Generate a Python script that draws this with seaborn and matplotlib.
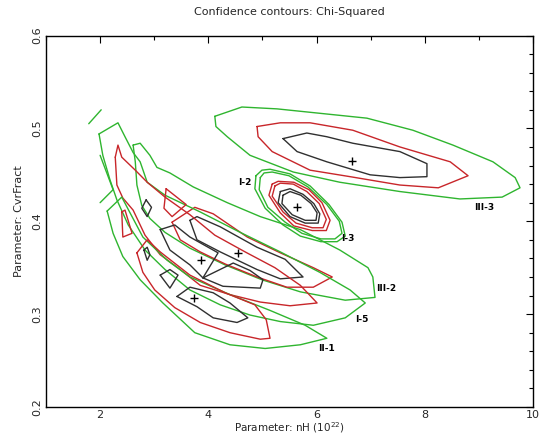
import matplotlib
matplotlib.use("Agg")
import matplotlib.pyplot as plt
import seaborn as sns
import numpy as np

sns.set_style("white")
plt.rcParams['font.family'] = ['DejaVu Sans']

GREEN = "#2fb52f"
RED = "#c8262a"
BLACK = "#303030"

# ---- III-3 ----
g_iii3_x = [4.12,4.62,5.27,6.93,7.78,8.52,9.26,9.67,9.76,9.43,8.65,7.54,6.43,5.57,4.77,4.35,4.14,4.12]
g_iii3_y = [0.513,0.523,0.521,0.511,0.498,0.482,0.464,0.447,0.436,0.426,0.424,0.432,0.442,0.453,0.471,0.491,0.502,0.513]
r_iii3_x = [4.90,5.33,5.88,6.67,7.54,8.47,8.80,8.25,7.54,6.62,5.88,5.18,4.92,4.90]
r_iii3_y = [0.502,0.506,0.506,0.498,0.480,0.464,0.449,0.436,0.439,0.448,0.455,0.475,0.491,0.502]
k_iii3_x = [5.38,5.64,6.19,6.99,7.54,8.04,8.04,7.54,6.67,6.19,5.82,5.38]
k_iii3_y = [0.489,0.475,0.464,0.450,0.447,0.448,0.462,0.475,0.484,0.491,0.495,0.489]

# ---- I-2 / I-3 ellipses ----
k_i2_x = [5.33,5.29,5.51,5.79,6.03,6.06,5.95,5.75,5.51,5.33]
k_i2_y = [0.432,0.420,0.405,0.398,0.398,0.408,0.419,0.429,0.435,0.432]
k_i3_x = [5.38,5.36,5.55,5.79,5.99,6.01,5.90,5.71,5.51,5.38]
k_i3_y = [0.428,0.419,0.407,0.401,0.401,0.409,0.419,0.428,0.432,0.428]
r_i2_x = [5.18,5.12,5.33,5.58,5.92,6.18,6.25,6.10,5.86,5.58,5.29,5.18]
r_i2_y = [0.440,0.428,0.409,0.395,0.390,0.390,0.401,0.420,0.434,0.442,0.443,0.440]
r_i3_x = [5.23,5.18,5.38,5.62,5.92,6.12,6.18,6.05,5.82,5.57,5.33,5.23]
r_i3_y = [0.438,0.427,0.410,0.398,0.393,0.393,0.402,0.419,0.432,0.440,0.441,0.438]
g_i2_x = [4.88,4.86,5.05,5.38,5.70,6.08,6.38,6.53,6.47,6.23,5.88,5.51,5.14,4.99,4.88]
g_i2_y = [0.449,0.435,0.414,0.396,0.384,0.378,0.378,0.384,0.399,0.418,0.438,0.451,0.456,0.455,0.449]
g_i3_x = [4.96,4.94,5.10,5.42,5.73,6.08,6.34,6.47,6.42,6.19,5.84,5.49,5.18,5.03,4.96]
g_i3_y = [0.447,0.434,0.415,0.399,0.387,0.381,0.381,0.387,0.400,0.418,0.437,0.449,0.453,0.452,0.447]

# ---- III-2 ----
k_iii2_x = [3.66,3.79,4.22,4.90,5.42,5.75,5.33,4.90,4.22,3.79,3.66]
k_iii2_y = [0.401,0.405,0.394,0.372,0.359,0.340,0.338,0.348,0.367,0.380,0.401]
r_iii2_x = [3.33,3.75,4.09,4.72,5.33,5.94,6.29,5.94,5.45,4.90,4.31,3.85,3.48,3.33]
r_iii2_y = [0.399,0.415,0.408,0.383,0.366,0.350,0.340,0.329,0.329,0.340,0.354,0.367,0.380,0.399]
g_iii2_x = [2.61,2.74,2.92,3.05,3.29,3.72,4.35,4.96,5.70,6.43,6.95,7.04,7.08,6.53,5.70,4.99,4.31,3.66,3.20,2.92,2.77,2.68,2.65,2.61]
g_iii2_y = [0.482,0.484,0.471,0.458,0.452,0.437,0.420,0.405,0.391,0.369,0.350,0.340,0.318,0.315,0.324,0.337,0.353,0.371,0.388,0.403,0.417,0.439,0.464,0.482]

# ---- I-5 ----
k_i5a_x = [3.11,3.38,3.66,4.18,3.90,3.66,3.29,3.11]
k_i5a_y = [0.391,0.396,0.383,0.366,0.339,0.353,0.369,0.391]
k_i5b_x = [3.90,4.46,4.77,5.01,4.96,4.27,3.90]
k_i5b_y = [0.339,0.355,0.347,0.337,0.328,0.330,0.339]
r_i5_x = [2.28,2.33,2.40,2.65,2.87,3.20,3.66,4.12,4.68,5.23,5.70,6.01,5.51,4.96,4.40,3.85,3.48,3.11,2.83,2.61,2.42,2.31,2.28]
r_i5_y = [0.469,0.482,0.469,0.455,0.442,0.426,0.407,0.385,0.367,0.350,0.331,0.312,0.309,0.313,0.321,0.331,0.348,0.364,0.385,0.412,0.425,0.439,0.469]
g_i5_x = [1.98,2.33,2.46,2.61,2.74,2.87,3.20,3.85,4.59,5.33,6.06,6.62,6.90,6.53,5.94,5.33,4.77,4.22,3.66,3.20,2.83,2.52,2.31,2.18,2.05,1.98]
g_i5_y = [0.494,0.506,0.491,0.474,0.464,0.442,0.428,0.410,0.388,0.367,0.345,0.326,0.312,0.296,0.288,0.292,0.299,0.310,0.326,0.348,0.369,0.396,0.423,0.445,0.471,0.494]
g_open1_x = [2.00,2.24,2.00]
g_open1_y = [0.471,0.434,0.420]
g_open2_x = [1.79,2.02]
g_open2_y = [0.505,0.520]

# ---- II-1 ----
k_ii1_x = [3.42,3.66,4.09,4.40,4.73,4.53,4.09,3.79,3.42]
k_ii1_y = [0.319,0.329,0.323,0.312,0.296,0.291,0.296,0.308,0.319]
k_s1_x = [3.11,3.29,3.44,3.29,3.11]
k_s1_y = [0.342,0.348,0.342,0.328,0.342]
k_s2_x = [2.81,2.87,2.92,2.87,2.81]
k_s2_y = [0.369,0.372,0.364,0.358,0.369]
k_s3_x = [2.85,2.95,2.87,2.77,2.85]
k_s3_y = [0.423,0.415,0.405,0.414,0.423]
r_ii1_x = [2.68,2.87,3.11,3.66,4.31,4.86,5.07,5.14,4.96,4.40,3.85,3.38,3.01,2.79,2.68]
r_ii1_y = [0.366,0.380,0.367,0.342,0.323,0.310,0.294,0.274,0.273,0.280,0.291,0.307,0.326,0.345,0.366]
r_s1_x = [2.40,2.46,2.59,2.42,2.40]
r_s1_y = [0.410,0.412,0.387,0.383,0.410]
r_s2_x = [3.22,3.59,3.33,3.18,3.22]
r_s2_y = [0.435,0.418,0.405,0.414,0.435]
g_ii1_x = [2.13,2.40,2.59,2.79,3.24,3.66,4.40,5.14,5.79,6.19,5.70,5.05,4.40,3.75,3.16,2.74,2.42,2.24,2.13]
g_ii1_y = [0.411,0.426,0.405,0.383,0.358,0.340,0.321,0.304,0.288,0.274,0.267,0.263,0.267,0.280,0.312,0.337,0.362,0.387,0.411]

# best-fit points
best_x = [6.66, 5.64, 4.55, 3.87, 3.74]
best_y = [0.465, 0.415, 0.366, 0.358, 0.317]

# labels
label_text = ["I-2", "I-3", "III-3", "III-2", "I-5", "II-1"]
label_x = [4.68, 6.58, 9.10, 7.28, 6.84, 6.18]
label_y = [0.442, 0.381, 0.415, 0.328, 0.294, 0.263]

fig = plt.figure(figsize=(5.43, 4.38), dpi=100)
ax = fig.add_axes([46/543, 1-407/438, (533-46)/543, (407-35.5)/438])

lines = [
    (g_iii3_x, g_iii3_y, GREEN), (r_iii3_x, r_iii3_y, RED), (k_iii3_x, k_iii3_y, BLACK),
    (g_i2_x, g_i2_y, GREEN), (g_i3_x, g_i3_y, GREEN),
    (r_i2_x, r_i2_y, RED), (r_i3_x, r_i3_y, RED),
    (k_i2_x, k_i2_y, BLACK), (k_i3_x, k_i3_y, BLACK),
    (g_iii2_x, g_iii2_y, GREEN), (r_iii2_x, r_iii2_y, RED), (k_iii2_x, k_iii2_y, BLACK),
    (g_i5_x, g_i5_y, GREEN), (g_open1_x, g_open1_y, GREEN), (g_open2_x, g_open2_y, GREEN),
    (r_i5_x, r_i5_y, RED), (k_i5a_x, k_i5a_y, BLACK), (k_i5b_x, k_i5b_y, BLACK),
    (g_ii1_x, g_ii1_y, GREEN), (r_ii1_x, r_ii1_y, RED), (r_s1_x, r_s1_y, RED), (r_s2_x, r_s2_y, RED),
    (k_ii1_x, k_ii1_y, BLACK), (k_s1_x, k_s1_y, BLACK), (k_s2_x, k_s2_y, BLACK), (k_s3_x, k_s3_y, BLACK),
]
for xs, ys, c in lines:
    sns.lineplot(x=xs, y=ys, sort=False, estimator=None, color=c, lw=1.0, ax=ax)

sns.scatterplot(x=best_x, y=best_y, marker="+", s=35, color="black", linewidth=1.0, ax=ax, zorder=5)

for t, x, y in zip(label_text, label_x, label_y):
    ax.text(x, y, t, fontsize=6.5, fontweight="bold", ha="center", va="center", color="black")

ax.set_xlim(1, 10)
ax.set_ylim(0.2, 0.6)
ax.set_xticks([2, 4, 6, 8, 10])
ax.set_xticks([1, 3, 5, 7, 9], minor=True)
ax.set_yticks([0.2, 0.3, 0.4, 0.5, 0.6])
ax.set_yticks(np.arange(0.2, 0.6001, 0.02), minor=True)
ax.set_yticklabels(["0.2", "0.3", "0.4", "0.5", "0.6"], rotation=90, va="center")
ax.tick_params(which="both", direction="in", top=True, right=True, labelsize=8, color="black", pad=2.5)
ax.tick_params(which="major", length=5, width=0.8)
ax.tick_params(which="minor", length=3, width=0.8)
for s in ax.spines.values():
    s.set_color("black")
    s.set_linewidth(1.0)

ax.set_xlabel("Parameter: nH (10$^{22}$)", fontsize=7.5, labelpad=0)
ax.set_ylabel("Parameter: CvrFract", fontsize=8, labelpad=6)
fig.text(0.533, 0.972, "Confidence contours: Chi-Squared", ha="center", va="center", fontsize=8)

fig.savefig("out.png", dpi=100)
